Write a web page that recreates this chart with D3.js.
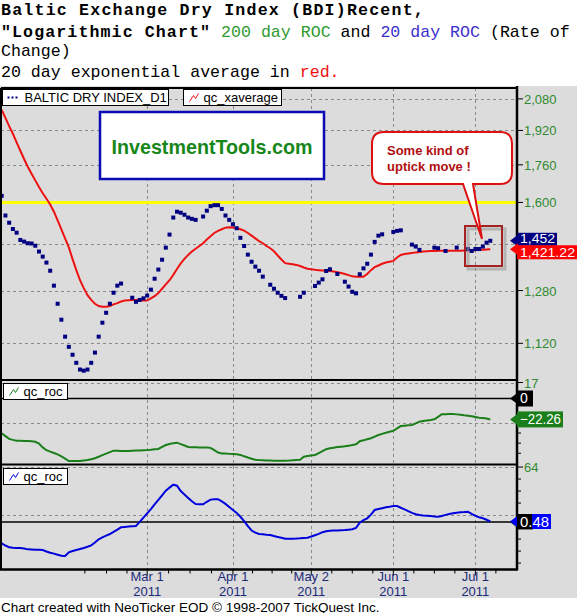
<!DOCTYPE html>
<html><head><meta charset="utf-8">
<script src="https://cdn.jsdelivr.net/npm/d3@7"></script>
<style>body{margin:0;background:#fff}svg{display:block}</style>
</head><body>
<svg id="c" width="577" height="613"></svg>
<script>
// ---------------- DATA ----------------
// Baltic Dry Index daily closes (one slot per weekday, null = no print)
const bdi = [1627,1548,1520,1496,1482,1455,1449,1443,1442,1434,
 1413,1395,1374,1346,1296,1238,1189,1139,1110,1088,
 1066,1048,1045,1048,1066,1094,1139,1180,1210,1238,
 1273,1296,1303,null,null,1257,1244,1250,1255,1264,
 1283,1319,1350,1384,1427,1475,1540,1563,1559,1551,
 1540,1535,1531,null,1544,1567,1585,1589,1589,1574,
 1548,1531,1514,1499,1463,1433,1402,1377,1360,1346,
 1326,null,1299,1286,1273,1263,1256,null,null,null,
 1260,1273,null,null,1295,1306,1317,1345,1351,null,
 1335,null,1309,1293,1276,1271,1334,1354,1370,1402,
 1448,1471,1476,null,null,1485,1489,1491,null,null,
 1438,1431,1419,null,null,null,1427,1425,null,1415,
 null,null,1427,null,null,1422,1415,1422,1422,1431,
 1445,1452];
// 20 day exponential average
const ema = [2023,1982,1941,1904,1863,1824,1786,1751,1721,1692,
 1664,1638,1615,1592,1563,1529,1495,1461,1428,1386,
 1348,1314,1288,1265,1250,1238,1231,1229,1229,1231,
 1236,1240,1245,1248,1249,1250,1250,1249,1248,1248,
 1255,1262,1272,1286,1300,1314,1332,1352,1371,1387,
 1401,1413,1423,1433,1443,1457,1469,1481,1489,1495,
 1501,1503,1502,1499,1495,1490,1481,1471,1461,1451,
 1443,1433,1425,1414,1399,1385,1372,1370,1368,1366,
 1362,1357,1353,1351,1349,1348,1347,1346,1345,1343,
 1341,1338,1335,1331,1327,1326,1326,1326,1335,1348,
 1358,1364,1370,1374,1377,1380,1392,1401,1404,1406,
 1408,1410,1411,1413,1414,1415,1415,1416,1416,1416,
 1416,1416,1416,1416,1417,1417,1417,1418,1419,1419,
 1420,1421.22];
// 200 day rate of change (%)
const roc200 = [-37,-40,-43,-44,-44.9,-45,-45.1,-45.3,-45.6,-46,
 -48,-52,-55,-56.5,-58,-59.5,-61.5,-64,-66.5,-66.5,
 -66.5,-66.5,-66,-65.5,-64.7,-63.5,-62,-60.3,-58.7,-57,
 -55.5,-55.6,-55.8,-55.9,-55.8,-55.6,-55.4,-55.2,-55,-54.8,
 -54.5,-54,-53.7,-51.5,-49.5,-48.5,-47.5,-47,-48.5,-50,
 -51.6,-51.8,-51.9,-52,-52.1,-52.2,-52.5,-55,-57.5,-58.4,
 -58.6,-58.9,-59.1,-59.3,-60,-61.5,-62.8,-64,-65.2,-65.5,
 -65.7,-65.9,-66,-66.1,-66.2,-66.2,-66.1,-66,-65.8,-65.4,
 -65.1,-62,-61.2,-60.6,-60.1,-58,-56,-53.9,-53,-52.3,
 -51.7,-51.2,-50.9,-50.2,-49.5,-48.7,-45.5,-44.5,-43.3,-42.3,
 -40.5,-38.8,-37.6,-36.5,-35.3,-34.3,-31.8,-29.3,-28.9,-28.5,
 -28.2,-26.5,-24.7,-24,-23.4,-22.8,-22.1,-19.5,-16.8,-16.7,
 -16.6,-16.5,-16.9,-17.4,-17.9,-18.3,-19,-19.7,-20.4,-20.8,
 -21.3,-22.26];
// 20 day rate of change (%)
const roc20 = [-25,-27.5,-29.6,-30,-30.3,-30.5,-31,-32,-32.2,-32.4,
 -32.6,-32.8,-34.5,-35.9,-37,-38.3,-39.5,-39.8,-35.5,-34,
 -32.8,-31.5,-30.5,-29,-27.3,-24,-20.3,-18,-16,-14.1,
 -11.5,-9,-6.3,-5.8,-5.4,-5.1,-4.8,0,5,10,
 15,20.5,25.6,31,36.4,40,43.4,42.2,36,32,
 28,24,20.8,20.6,20.5,23.5,26,26.5,26.5,24,
 21,17.5,14,10.5,6,1,-5,-10,-12.5,-14,
 -14.5,-15,-15.3,-16.5,-17.5,-18.5,-19.5,-19.6,-19.6,-19.4,
 -19.1,-18.7,-18.4,-17,-15.5,-14,-12,-10.8,-10.3,-10.1,
 -9.9,-9.7,-9.5,-9,-8.5,-7,-1,2,4.2,8.5,
 13.9,15,16,17,17.7,18.5,18.5,16.5,14.7,12.5,
 10.5,9,8.1,7.6,7.2,6.8,6.4,6.1,7,8.2,
 9.2,10,10.8,11.2,11.5,11.9,9.5,7,5.5,4.2,
 2.5,0.48];
const monthIdx = [39, 62, 83, 105, 127];
const monthLabels = ["Mar 1", "Apr 1", "May 2", "Jun 1", "Jul 1"];
const yearLabel = "2011";
const weekIdx = [22.3, 28.1, 33.6, 44.75, 50.5, 56.25, 67.25, 72.5, 77.75, 88.5, 94, 99.5, 110.5, 116, 121.5, 132.5];
const priceTicks = [1120, 1280, 1440, 1600, 1760, 1920, 2080];
const priceLabelTicks = [1120, 1280, 1600, 1760, 1920, 2080];
const roc200Ticks = [17, -26];
const roc200LabelTicks = [17];
const roc20Ticks = [64, 8];
const roc20LabelTicks = [64];
const refLevel = 1600;

// ---------------- LAYOUT ----------------
const svg = d3.select("#c");
const FONT = "'Liberation Sans', Arial, sans-serif";
const MONO = "'Liberation Mono', 'Courier New', monospace";
const L = 1, R = 517;
const P1 = [88, 380], P2 = [380, 464.5], P3 = [464.5, 569.5];
const x = d3.scaleLinear().domain([0, 138]).range([1.7, 516.4]);
const y1 = d3.scaleLog().domain([1020.6, 2138]).range([P1[1], P1[0]]);
const y2 = d3.scaleLinear().domain([-70.2, 19.66]).range([P2[1], P2[0]]);
const y3 = d3.scaleLinear().domain([-55.5, 66.98]).range([P3[1], P3[0]]);

// title
const title = svg.append("g").attr("font-family", MONO).attr("font-size", 16.6);
const t1 = title.append("text").attr("x", 1).attr("y", 15);
t1.append("tspan").attr("font-weight", "bold").attr("letter-spacing", 1.2).text("Baltic Exchange Dry Index (BDI)Recent,");
const t2 = title.append("text").attr("x", 1).attr("y", 37);
t2.append("tspan").attr("font-weight", "bold").attr("letter-spacing", 1.1).text("\"Logarithmic Chart\"");
t2.append("tspan").attr("fill", "#2f9a2f").text(" 200 day ROC");
t2.append("tspan").text(" and ");
t2.append("tspan").attr("fill", "#3b2fcc").text("20 day ROC");
t2.append("tspan").text(" (Rate of");
title.append("text").attr("x", 1).attr("y", 56).text("Change)");
const t4 = title.append("text").attr("x", 1).attr("y", 77);
t4.append("tspan").text("20 day exponential average in ");
t4.append("tspan").attr("fill", "#ee1111").text("red.");

// background
svg.append("rect").attr("x", 0).attr("y", 86).attr("width", 577).attr("height", 512).attr("fill", "#dcdcdc");

// grid
const grid = svg.append("g").attr("stroke", "#8a8a8a").attr("stroke-dasharray", "3,3").attr("stroke-width", 1);
monthIdx.forEach(i => grid.append("line").attr("x1", Math.round(x(i)) + 0.5).attr("x2", Math.round(x(i)) + 0.5).attr("y1", P1[0]).attr("y2", P3[1]));
priceTicks.forEach(v => grid.append("line").attr("x1", L).attr("x2", R).attr("y1", Math.round(y1(v)) + 0.5).attr("y2", Math.round(y1(v)) + 0.5));
roc200Ticks.forEach(v => grid.append("line").attr("x1", L).attr("x2", R).attr("y1", Math.round(y2(v)) + 0.5).attr("y2", Math.round(y2(v)) + 0.5));
roc20Ticks.forEach(v => grid.append("line").attr("x1", L).attr("x2", R).attr("y1", Math.round(y3(v)) + 0.5).attr("y2", Math.round(y3(v)) + 0.5));

// yellow reference
svg.append("line").attr("x1", L).attr("x2", R).attr("y1", y1(refLevel)).attr("y2", y1(refLevel)).attr("stroke", "#ffff00").attr("stroke-width", 3);

// zero lines
svg.append("line").attr("x1", L).attr("x2", R).attr("y1", y2(0)).attr("y2", y2(0)).attr("stroke", "#000").attr("stroke-width", 1.5);
svg.append("line").attr("x1", L).attr("x2", R).attr("y1", y3(0)).attr("y2", y3(0)).attr("stroke", "#000").attr("stroke-width", 1.5);

// ema line
const idx = d3.range(ema.length);
svg.append("path").datum(idx).attr("fill", "none").attr("stroke", "#ee1111").attr("stroke-width", 2)
  .attr("d", d3.line().x(i => x(i)).y(i => y1(ema[i])));
// bdi dots
svg.append("g").attr("fill", "#000080").selectAll("rect").data(idx.filter(i => bdi[i] != null)).join("rect")
  .attr("x", i => x(i) - 2).attr("y", i => y1(bdi[i]) - 2).attr("width", 4).attr("height", 4);
// roc lines
svg.append("path").datum(idx).attr("fill", "none").attr("stroke", "#1a7f1a").attr("stroke-width", 2)
  .attr("d", d3.line().x(i => x(i)).y(i => y2(roc200[i])));
svg.append("path").datum(idx).attr("fill", "none").attr("stroke", "#0000dd").attr("stroke-width", 2)
  .attr("d", d3.line().x(i => x(i)).y(i => y3(roc20[i])));

// panel frames
const fr = svg.append("g").attr("stroke", "#000").attr("fill", "none");
fr.append("line").attr("x1", L).attr("x2", R).attr("y1", P1[0]).attr("y2", P1[0]).attr("stroke-width", 2);
[P2[0], P3[0]].forEach(yy => fr.append("line").attr("x1", L).attr("x2", R).attr("y1", yy).attr("y2", yy).attr("stroke-width", 2));
fr.append("line").attr("x1", 0).attr("x2", R).attr("y1", P3[1]).attr("y2", P3[1]).attr("stroke-width", 2.5);
fr.append("line").attr("x1", L).attr("x2", L).attr("y1", P1[0]).attr("y2", P3[1]).attr("stroke-width", 2);
fr.append("line").attr("x1", R).attr("x2", R).attr("y1", P1[0] - 2).attr("y2", P3[1] + 1).attr("stroke-width", 2.5);

// right axes
const ax = svg.append("g").attr("font-family", FONT).attr("font-size", 13).attr("fill", "#2f8a2f");
function rAxis(scale, ticks, labelTicks, fmt) {
  ticks.forEach(v => {
    const yy = scale(v);
    ax.append("line").attr("x1", R).attr("x2", R + 6).attr("y1", yy).attr("y2", yy).attr("stroke", "#000");
    if (labelTicks.includes(v)) ax.append("text").attr("x", R + 7).attr("y", yy + 5).text(fmt(v));
  });
}
rAxis(y1, priceTicks, priceLabelTicks, d3.format(","));
rAxis(y2, roc200Ticks, roc200LabelTicks, d3.format("d"));
rAxis(y3, roc20Ticks, roc20LabelTicks, d3.format("d"));
// minor ticks on ROC axes
[-15.25, -4.5, -36.75, -47.5, -58.25, 6.25].forEach(v => ax.append("line").attr("x1", R).attr("x2", R + 4).attr("y1", y2(v)).attr("y2", y2(v)).attr("stroke", "#000"));
[50, 36, 22, -6, -20, -34, -48].forEach(v => ax.append("line").attr("x1", R).attr("x2", R + 4).attr("y1", y3(v)).attr("y2", y3(v)).attr("stroke", "#000"));

// bottom axis
const bx = svg.append("g").attr("font-family", FONT).attr("font-size", 13).attr("fill", "#1c2a7a").attr("text-anchor", "middle");
weekIdx.forEach(i => bx.append("line").attr("x1", x(i)).attr("x2", x(i)).attr("y1", P3[1]).attr("y2", P3[1] + 4).attr("stroke", "#000"));
monthIdx.forEach((i, k) => {
  bx.append("line").attr("x1", x(i)).attr("x2", x(i)).attr("y1", P3[1]).attr("y2", P3[1] + 6).attr("stroke", "#000");
  bx.append("text").attr("x", x(i)).attr("y", 580.5).text(monthLabels[k]);
  bx.append("text").attr("x", x(i)).attr("y", 595.5).text(yearLabel);
});

// value labels
function vLabel(yy, txt, fill, w, h, opts) {
  opts = opts || {};
  const g = svg.append("g");
  const ay = opts.arrowY != null ? opts.arrowY : yy;
  g.append("path").attr("d", `M${R - 7},${ay} L${R + 1},${ay - 6} L${R + 1},${ay + 6} Z`).attr("fill", fill);
  g.append("rect").attr("x", R).attr("y", yy - h / 2).attr("width", w).attr("height", h).attr("fill", fill);
  if (opts.overlay) g.append("rect").attr("x", R).attr("y", yy - h / 2).attr("width", opts.overlay).attr("height", h).attr("fill", "#000");
  if (txt) {
    const t = g.append("text").attr("x", R + 3).attr("y", yy + (opts.dy != null ? opts.dy : 5)).attr("font-family", FONT).attr("font-size", opts.fs || 14).attr("fill", "#fff").text(txt);
    if (opts.fit) t.attr("textLength", w - 5).attr("lengthAdjust", "spacingAndGlyphs");
  }
}
const lastB = bdi[bdi.length - 1], lastE = ema[ema.length - 1];
vLabel(y1(lastB) - 1.5, d3.format(",")(lastB), "#000080", 40, 13, {fs: 12.5, dy: 4, fit: true, arrowY: y1(lastB)});
vLabel(y1(lastE) + 3, d3.format(",.2f")(lastE), "#ff0000", 60, 14, {fs: 13.5, dy: 5, fit: true, arrowY: y1(lastE)});
vLabel(y2(0), "0", "#000", 16, 16);
vLabel(y2(roc200[roc200.length - 1]), d3.format(".2f")(roc200[roc200.length - 1]), "#1a7f1a", 46, 16, {fit: true});
vLabel(y3(0), "", "#000", 16, 15);
vLabel(y3(roc20[roc20.length - 1]), d3.format(".2f")(roc20[roc20.length - 1]), "#0000ff", 34, 15, {fit: true, overlay: 15});

// legends
function legendBox(x0, y0, w, txt, icon, color) {
  const g = svg.append("g");
  g.append("rect").attr("x", x0).attr("y", y0).attr("width", w).attr("height", 16).attr("fill", "#fff").attr("stroke", "#000");
  if (icon === "dots") {
    [0, 4, 8].forEach(d => g.append("rect").attr("x", x0 + 5 + d).attr("y", y0 + 7).attr("width", 2).attr("height", 2).attr("fill", color));
  } else {
    g.append("path").attr("d", `M${x0 + 6},${y0 + 12} L${x0 + 10},${y0 + 6} L${x0 + 12},${y0 + 9} L${x0 + 15},${y0 + 4}`).attr("fill", "none").attr("stroke", color).attr("stroke-width", 1);
  }
  g.append("text").attr("x", x0 + (icon === "dots" ? 22 : 20)).attr("y", y0 + 12.5).attr("font-family", FONT).attr("font-size", 13).attr("fill", "#000").text(txt);
}
legendBox(2.5, 89.5, 166, "BALTIC DRY INDEX_D1", "dots", "#000080");
legendBox(183.5, 89.5, 98, "qc_xaverage", "line", "#ee1111");
legendBox(3.5, 383.5, 64, "qc_roc", "line", "#1a7f1a");
legendBox(3.5, 468.5, 64, "qc_roc", "line", "#0000dd");

// InvestmentTools box
svg.append("rect").attr("x", 100).attr("y", 112).attr("width", 224).attr("height", 67).attr("fill", "#fff").attr("stroke", "#0a0ab4").attr("stroke-width", 2.5);
svg.append("text").attr("x", 212).attr("y", 154).attr("text-anchor", "middle").attr("font-family", FONT).attr("font-weight", "bold").attr("font-size", 19.7).attr("fill", "#17871a").text("InvestmentTools.com");

// callout
svg.append("rect").attr("x", 468).attr("y", 229).attr("width", 37).attr("height", 40).attr("fill", "none").attr("stroke", "#9a9a9a").attr("stroke-width", 3).attr("opacity", 0.6);
svg.append("rect").attr("x", 465).attr("y", 226).attr("width", 37).attr("height", 40).attr("fill", "none").attr("stroke", "#a52222").attr("stroke-width", 2);
svg.append("path").attr("d", "M384,132 H500 Q512,132 512,144 V172 Q512,184 500,184 H473 L482,239 L463,184 H384 Q372,184 372,172 V144 Q372,132 384,132 Z")
  .attr("fill", "#fff").attr("stroke", "#dd1111").attr("stroke-width", 2);
const ct = svg.append("g").attr("font-family", FONT).attr("font-weight", "bold").attr("font-size", 13).attr("fill", "#b01010");
ct.append("text").attr("x", 387).attr("y", 155).text("Some kind of");
ct.append("text").attr("x", 387).attr("y", 171).text("uptick move !");

// footer
svg.append("text").attr("x", 1).attr("y", 611.5).attr("font-family", FONT).attr("font-size", 13.5).attr("fill", "#000").text("Chart created with NeoTicker EOD \u00a9 1998-2007 TickQuest Inc.");
</script>
</body></html>
